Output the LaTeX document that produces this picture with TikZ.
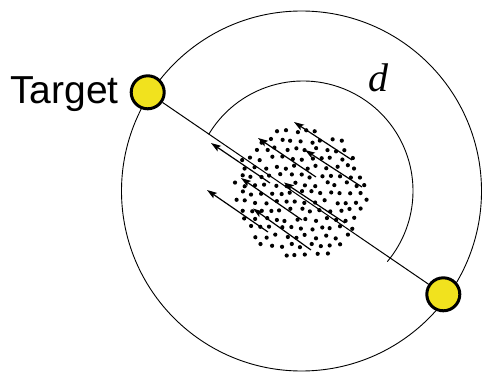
\documentclass[tikz,border=0pt]{standalone}
\usepackage{fontspec}
\setmainfont{Liberation Serif}
\newfontfamily\labelsans{Liberation Sans}
\usetikzlibrary{arrows.meta,calc}
\definecolor{yel}{RGB}{241,226,30}
\tikzset{
  target/.style={circle,draw=black,fill=yel,line width=3pt,minimum size=33pt,inner sep=0pt},
  ring/.style={draw=black,line width=0.9pt},
  beam/.style={draw=black,line width=1pt},
  flow/.style={draw=black,line width=1.2pt,-{Stealth[length=10pt,width=6.5pt,inset=2pt]}},
  particle/.style={fill=black}
}
\begin{document}
\begin{tikzpicture}[x=1pt,y=-1pt]
\useasboundingbox (0,0) rectangle (484,374);
\coordinate (c) at (301.5,191);
\coordinate (ci) at (303,191);
% outer ring
\draw[ring] (c) circle[radius=180];
% inner arc
\draw[ring] (ci) ++(-149:110) arc[start angle=-149,end angle=40,radius=110];
% particle cloud
\pgfmathsetseed{12}
\foreach \i in {-8,...,8}{
  \foreach \j in {-8,...,8}{
    \pgfmathsetmacro\px{\j*10 + mod(abs(\i),2)*5 + 2.0*rand}
    \pgfmathsetmacro\py{\i*8.7 + 2.0*rand}
    \pgfmathtruncatemacro\ok{((\px/68)*(\px/68)+(\py/66)*(\py/66)<1)}
    \ifnum\ok=1
      \fill[particle] ($(301,193)+(\px,\py)$) circle[radius=2.1];
    \fi
  }
}
% targets
\node[target] (t1) at (147.7,92.3) {};
\node[target] (t2) at (443.3,294.3) {};
\draw[beam] (t1) -- (t2);
% flow arrows
\coordinate (a1s) at (352,160); \coordinate (a1e) at (294,122);
\coordinate (a2s) at (316,177); \coordinate (a2e) at (258,138);
\coordinate (a3s) at (362,187); \coordinate (a3e) at (305,150);
\coordinate (a4s) at (270,183); \coordinate (a4e) at (211,143);
\coordinate (a5s) at (302,220); \coordinate (a5e) at (241,178);
\coordinate (a6s) at (345,223); \coordinate (a6e) at (284,182.5);
\coordinate (a7s) at (268,232); \coordinate (a7e) at (207,190);
\coordinate (a8s) at (311,250); \coordinate (a8e) at (253,208.5);
\foreach \k in {1,...,8}{\draw[flow] (a\k s) -- (a\k e);}
% labels
\node[anchor=base east,inner sep=0pt] (tl) at (119,104) {\labelsans\fontsize{39}{44}\selectfont Target};
\node[inner sep=0pt] (dl) at (378,78) {\fontsize{40}{44}\selectfont\itshape d};
\end{tikzpicture}
\end{document}
